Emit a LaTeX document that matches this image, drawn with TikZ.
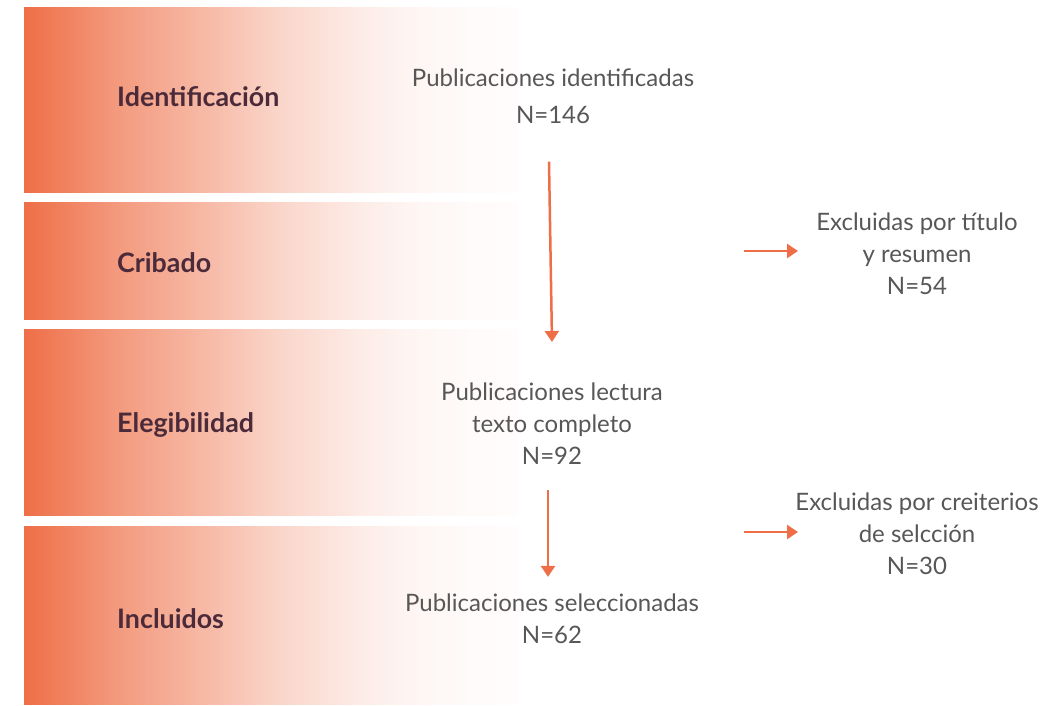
\documentclass[tikz,border=0pt]{standalone}
\usepackage{fontspec}
\setmainfont{Lato}
\usetikzlibrary{arrows.meta}
\definecolor{prismaorange}{HTML}{EE6F47}
\definecolor{stagered}{HTML}{4B2A3A}
\definecolor{infogray}{HTML}{575757}
\colorlet{fadeA}{prismaorange!70!white}
\colorlet{fadeB}{prismaorange!45!white}
\colorlet{fadeC}{prismaorange!31!white}
\colorlet{fadeD}{prismaorange!21!white}
\colorlet{fadeE}{prismaorange!12!white}
\colorlet{fadeF}{prismaorange!6!white}
\colorlet{fadeG}{prismaorange!3!white}
\colorlet{fadeH}{prismaorange!2!white}
\pgfdeclarehorizontalshading{bandfade}{100bp}{color(0bp)=(prismaorange); color(25bp)=(prismaorange); color(34.5bp)=(fadeA); color(44.75bp)=(fadeB); color(50bp)=(fadeC); color(55bp)=(fadeD); color(60bp)=(fadeE); color(65bp)=(fadeF); color(70bp)=(fadeG); color(75bp)=(fadeH); color(100bp)=(fadeH)}

\begin{document}
\begin{tikzpicture}[x=1pt,y=-1pt,
  band/.style={shading=bandfade},
  stage/.style={anchor=base west, inner sep=0pt, text=stagered, font=\bfseries\fontsize{26.8}{30}\selectfont},
  info/.style={inner sep=0pt, align=center, text=infogray, font=\fontsize{24}{32}\selectfont},
  flow/.style={draw=prismaorange, line width=2.5pt, -{Triangle[width=14pt,length=11pt]}}]
\useasboundingbox (0,0) rectangle (1062,705);
\shade[band] (24,7) rectangle (518,192);
\shade[band] (24,202) rectangle (518,319);
\shade[band] (24,329) rectangle (518,515);
\shade[band] (24,526) rectangle (518,704);

\node[stage] (identificacion) at (117,106) {Identificación};
\node[stage] (cribado) at (117,272) {Cribado};
\node[stage] (elegibilidad) at (117,432) {Elegibilidad};
\node[stage] (incluidos) at (117,628) {Incluidos};

\node[info] (ident) at (553,96) {Publicaciones identificadas\\[5pt]N=146};
\node[info] (excl1) at (917,254) {Excluidas por título\\y resumen\\N=54};
\node[info] (lectura) at (552,424) {Publicaciones lectura\\texto completo\\N=92};
\node[info] (excl2) at (917,534) {Excluidas por creiterios\\de selcción\\N=30};
\node[info] (selec) at (552,619) {Publicaciones seleccionadas\\N=62};

\draw[flow] ([xshift=-4pt,yshift=-38pt]ident.south) -- ([yshift=41pt]lectura.north);
\draw[flow] ([xshift=-4pt,yshift=-25pt]lectura.south) -- ([xshift=-4pt,yshift=17pt]selec.north);
\draw[flow] ([xshift=-173pt,yshift=3pt]excl1.center) -- ([xshift=-119pt,yshift=3pt]excl1.center);
\draw[flow] ([xshift=-173pt,yshift=2pt]excl2.center) -- ([xshift=-119pt,yshift=2pt]excl2.center);
\end{tikzpicture}
\end{document}
